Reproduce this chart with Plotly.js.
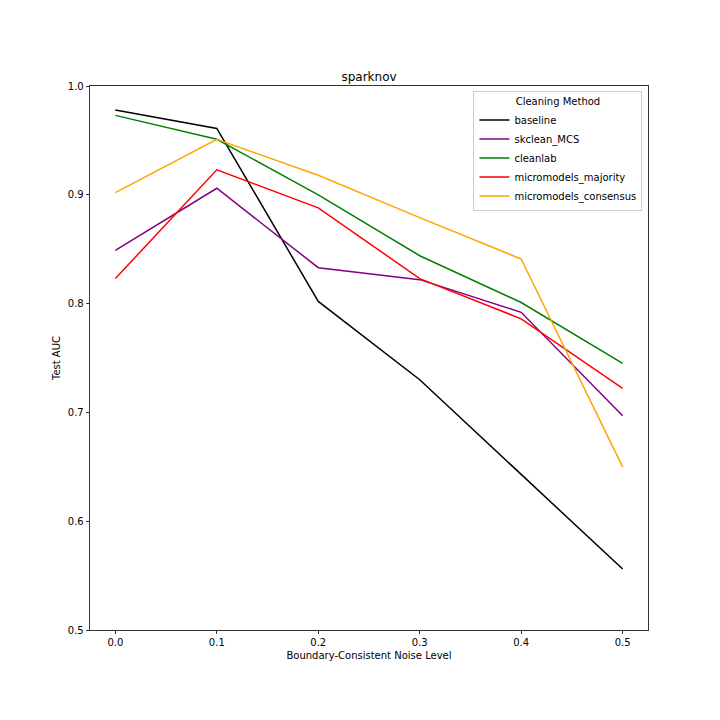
<!DOCTYPE html>
<html>
<head>
<meta charset="utf-8">
<script src="https://cdn.plot.ly/plotly-3.0.1.min.js"></script>
<style>
  html, body { margin: 0; padding: 0; background: #fff; }
  #chart { width: 720px; height: 720px; }
</style>
</head>
<body>
<div id="chart"></div>
<script>
const noiseLevels = [0.0, 0.1, 0.2, 0.3, 0.4, 0.5];

const methods = ['baseline', 'skclean_MCS', 'cleanlab', 'micromodels_majority', 'micromodels_consensus'];
const colors = ['black', 'purple', 'green', 'red', 'orange'];

const baseline = [0.978, 0.961, 0.802, 0.730, 0.643, 0.556];
const skcleanMCS = [0.849, 0.906, 0.833, 0.822, 0.792, 0.697];
const cleanlab = [0.973, 0.951, 0.900, 0.844, 0.801, 0.745];
const micromodelsMajority = [0.823, 0.923, 0.888, 0.823, 0.786, 0.722];
const micromodelsConsensus = [0.902, 0.951, 0.918, 0.879, 0.841, 0.650];

const series = [baseline, skcleanMCS, cleanlab, micromodelsMajority, micromodelsConsensus];

const traces = series.map((vals, i) => ({
  type: 'scatter',
  mode: 'lines',
  x: noiseLevels,
  y: vals,
  name: methods[i],
  line: { color: colors[i], width: 1.5 }
}));

const font = { family: 'DejaVu Sans', size: 10, color: 'black' };

const layout = {
  width: 720,
  height: 720,
  paper_bgcolor: 'white',
  plot_bgcolor: 'white',
  font: font,
  margin: { l: 90, r: 72, t: 86, b: 90 },
  title: {
    text: 'sparknov',
    font: { family: 'DejaVu Sans', size: 12, color: 'black' },
    x: 0.5,
    xref: 'paper',
    y: 1,
    yref: 'paper',
    yanchor: 'bottom',
    pad: { b: 5 }
  },
  xaxis: {
    range: [-0.025, 0.525],
    tickvals: noiseLevels,
    ticktext: noiseLevels.map(v => v.toFixed(1)),
    ticks: 'outside',
    ticklen: 3.5,
    tickwidth: 0.8,
    tickcolor: 'black',
    showline: true,
    linecolor: 'black',
    linewidth: 0.8,
    mirror: true,
    showgrid: false,
    zeroline: false,
    automargin: false,
    title: { text: 'Boundary-Consistent Noise Level', font: font, standoff: 4 }
  },
  yaxis: {
    range: [0.5, 1.0],
    tickvals: [0.5, 0.6, 0.7, 0.8, 0.9, 1.0],
    ticktext: ['0.5', '0.6', '0.7', '0.8', '0.9', '1.0'],
    ticks: 'outside',
    ticklen: 3.5,
    tickwidth: 0.8,
    tickcolor: 'black',
    showline: true,
    linecolor: 'black',
    linewidth: 0.8,
    mirror: true,
    showgrid: false,
    zeroline: false,
    automargin: false,
    title: { text: 'Test AUC', font: font, standoff: 5 }
  },
  showlegend: true,
  legend: {
    x: 0.99,
    xanchor: 'right',
    y: 0.99,
    yanchor: 'top',
    bgcolor: 'rgba(255,255,255,0.8)',
    bordercolor: '#cccccc',
    borderwidth: 1,
    font: font,
    title: { text: 'Cleaning Method', font: font, side: 'top center' },
    tracegroupgap: 0
  }
};

Plotly.newPlot('chart', traces, layout, { displayModeBar: false, staticPlot: true });
</script>
</body>
</html>
